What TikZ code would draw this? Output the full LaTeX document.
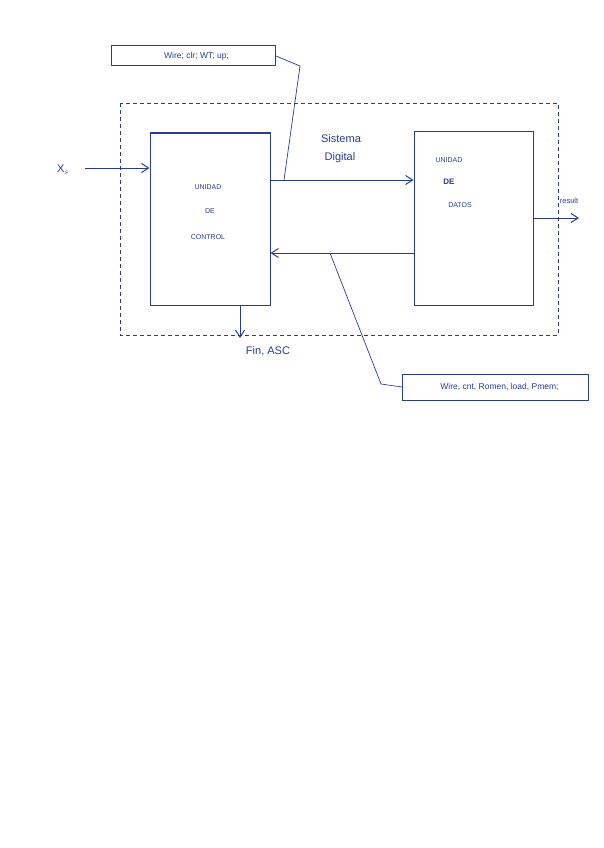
\documentclass[tikz,border=0pt]{standalone}
\usepackage{fontspec}
\setmainfont{Liberation Sans}
\usetikzlibrary{arrows.meta}
\definecolor{ink}{RGB}{40,60,150}
\begin{document}
\begin{tikzpicture}[x=1pt,y=-1pt,
  ink/.style={draw=ink,line width=1pt},
  arr/.style={ink,-{Straight Barb[length=7pt,width=9pt]}},
  lbl/.style={text=ink,font=\fontsize{7}{8}\selectfont,inner sep=1pt},
  big/.style={text=ink,font=\fontsize{11}{12}\selectfont,inner sep=1pt},
  note/.style={draw=ink,line width=1pt,text=ink,font=\fontsize{8.5}{9}\selectfont,inner sep=0pt,anchor=west}]
\useasboundingbox (0,0) rectangle (603,848);
% dashed system boundary
\draw[ink,dashed,dash pattern=on 4pt off 3pt,line width=0.7pt] (120,103) rectangle (558,335);
% units
\node[ink,minimum width=120pt,minimum height=172pt,inner sep=0pt] (uc) at (210,219) {};
\node[ink,minimum width=119pt,minimum height=173pt,inner sep=0pt] (ud) at (473.5,218.5) {};
\node[lbl] (uc1) at (208,187) {UNIDAD};
\node[lbl] (uc2) at (210,211) {DE};
\node[lbl] (uc3) at (208,237) {CONTROL};
\node[lbl] (ud1) at (449,160) {UNIDAD};
\node[lbl,font=\fontsize{8}{9}\selectfont\bfseries] (ud2) at (449,182) {DE};
\node[lbl] (ud3) at (460,205) {DATOS};
% signals
\coordinate (a1) at (uc.east |- 0,180);
\coordinate (a2) at (ud.west |- 0,180);
\draw[arr] (a1) -- (a2);
\coordinate (b1) at (ud.west |- 0,253);
\coordinate (b2) at (uc.east |- 0,253);
\draw[arr] (b1) -- (b2);
\node[big] (sd1) at (341,139) {Sistema};
\node[big] (sd2) at (340,158) {Digital};
% input
\node[big] (xs) at (63,170) {X$_s$};
\coordinate (xin) at (85,168);
\draw[arr] (xin) -- (uc.west |- xin);
% output
\coordinate (out) at (579,218);
\draw[arr] (ud.east |- out) -- (out);
\node[lbl,font=\fontsize{7.5}{8}\selectfont] (res) at (569,201) {result};
% fin
\coordinate (fin) at (240,338);
\draw[arr] (uc.south -| fin) -- (fin);
\node[big] (fintxt) at (268,351) {Fin, ASC};
% notes
\node[note,minimum width=164pt,minimum height=20pt] (n1) at (111,56) {\hspace{6pt}Wire; clr; WT; up;};
\coordinate (k1) at (300,66);
\coordinate (k1b) at (284,180);
\draw[ink,line width=0.7pt] (n1.east) -- (k1) -- (k1b);
\node[note,minimum width=186pt,minimum height=26pt] (n2) at (402,387) {\hspace{8pt}Wire, cnt, Romen, load, Pmem;};
\coordinate (k2) at (330,253);
\coordinate (k2b) at (381,384);
\draw[ink,line width=0.7pt] (k2) -- (k2b) -- (n2.west);
\end{tikzpicture}
\end{document}
